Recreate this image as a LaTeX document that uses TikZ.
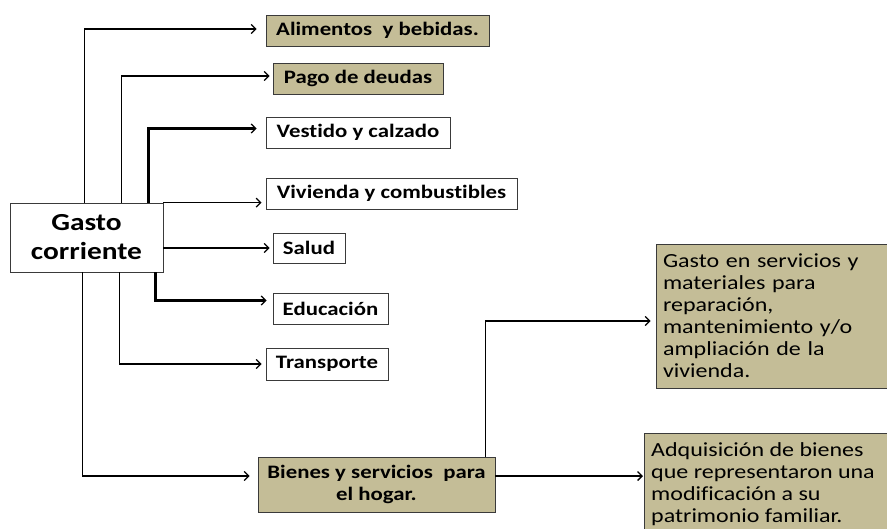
\documentclass[tikz,border=0pt]{standalone}
\usepackage{fontspec}
\setmainfont{Carlito}[FakeStretch=1.2, Ligatures=NoCommon]
\usetikzlibrary{arrows.meta}
\definecolor{tan}{HTML}{C4BD97}
\definecolor{edge}{HTML}{3A3A3A}
\tikzset{
  x=1pt, y=-1pt,
  box/.style={draw=edge, line width=0.8pt, inner sep=0pt, align=center, font=\fontsize{19}{22}\selectfont\bfseries},
  tanbox/.style={box, fill=tan},
  whitebox/.style={box, fill=white},
  para/.style={draw=edge, line width=0.8pt, fill=tan, inner xsep=7pt, inner ysep=0pt, align=left, font=\fontsize{20}{22}\selectfont},
  paratext/.style={inner xsep=7pt, inner ysep=0pt, align=left, font=\fontsize{20}{22}\selectfont},
  conn/.style={line width=1.6pt, -{Straight Barb[length=4.5pt,width=9pt,line width=1.3pt]}},
  thick conn/.style={conn, line width=2.6pt},
}
\begin{document}
\begin{tikzpicture}
\useasboundingbox (0,0) rectangle (887,528);
\clip (0,0) rectangle (887,528);
\fill[white] (0,0) rectangle (887,528);

\node[whitebox, minimum width=153pt, minimum height=69pt, font=\fontsize{24.5}{29}\selectfont\bfseries] (gc) at (86.5,237.5) {Gasto\\corriente};

\node[tanbox, minimum width=223pt, minimum height=31pt] (alim) at (377.5,30.5) {Alimentos\ \ y bebidas.};
\node[tanbox, minimum width=170pt, minimum height=31pt] (pago) at (358,78.5) {Pago de deudas};
\node[whitebox, minimum width=184pt, minimum height=31pt] (vest) at (358,132.5) {Vestido y calzado};
\node[whitebox, minimum width=251pt, minimum height=31pt] (viv) at (391.5,193.5) {Vivienda y combustibles};
\node[whitebox, minimum width=72pt, minimum height=30pt] (salud) at (309,248) {Salud};
\node[whitebox, minimum width=115pt, minimum height=31pt] (edu) at (330.5,308.5) {Educación};
\node[whitebox, minimum width=122pt, minimum height=32pt] (trans) at (327,364) {Transporte};
\node[tanbox, minimum width=237pt, minimum height=55pt] (bien) at (376.5,484.5) {Bienes y servicios\ \ para\\el hogar.};

\node[para, text width=217pt, minimum height=144pt] (gserv) at (771.5,316) {Gasto en servicios y\\materiales para\\reparación,\\mantenimiento y/o\\ampliación de la\\vivienda.};

% box of the last text runs past the lower edge of the picture
\fill[tan, draw=edge, line width=0.8pt] (644,433) rectangle (890,540);
\node[paratext, anchor=north west] (adq) at (644,442) {Adquisición de bienes\\que representaron una\\modificación a su\\patrimonio familiar.};

% upward branches
\draw[conn, shorten >=9pt] ([xshift=75pt]gc.north west) |- ([yshift=1.5pt]alim.west);
\draw[conn, shorten >=3pt] ([xshift=112pt]gc.north west) |- ([yshift=2.5pt]pago.west);
\draw[thick conn, shorten >=9pt] ([xshift=139pt]gc.north west) |- ([yshift=4pt]vest.west);
% right branches
\draw[conn, shorten >=4pt] (gc.north east) -- (gc.north east -| viv.west);
\draw[conn, shorten >=3pt] (gc.east |- salud.west) -- (salud.west);
% downward branches
\draw[thick conn, shorten >=6pt] ([xshift=146pt]gc.south west) |- ([yshift=8pt]edu.west);
\draw[conn, shorten >=4pt] ([xshift=110pt]gc.south west) |- (trans.west);
\draw[conn, shorten >=8pt] ([xshift=73pt]gc.south west) |- ([yshift=8.5pt]bien.west);
% from Bienes
\draw[conn, shorten >=5pt] ([xshift=-10pt]bien.north east) |- ([yshift=-5pt]gserv.west);
\coordinate (bo) at ([yshift=8.5pt]bien.east);
\draw[conn, shorten >=1pt] (bo) -- (bo -| adq.west);
\end{tikzpicture}
\end{document}
